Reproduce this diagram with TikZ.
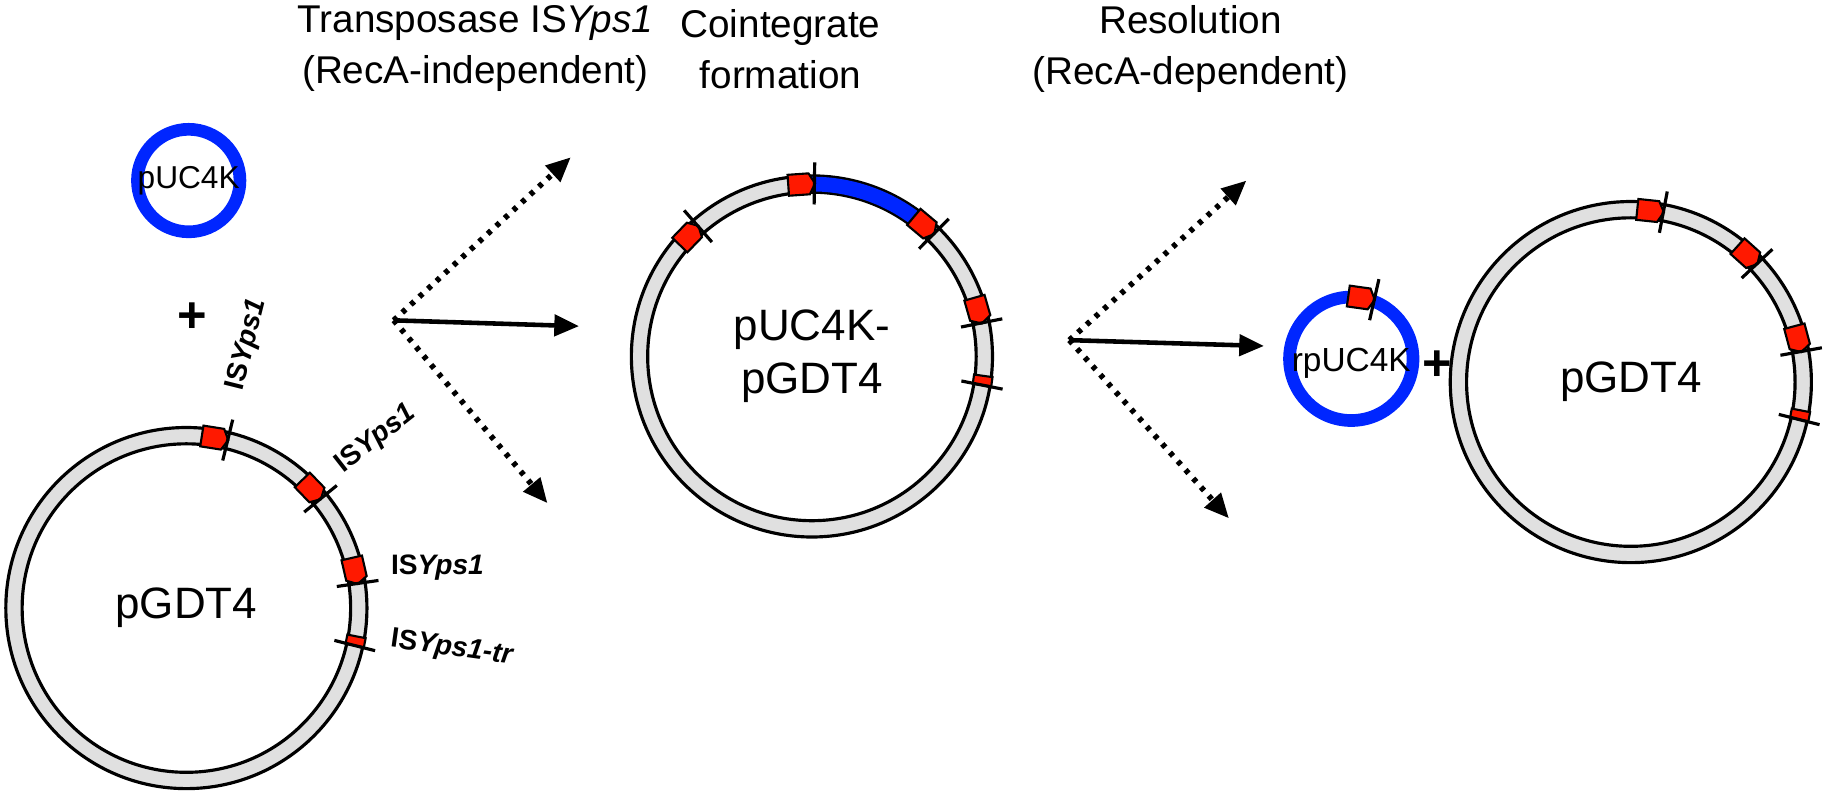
\documentclass[tikz,border=0pt]{standalone}
\usepackage{fontspec}
\setmainfont{Liberation Sans}
\usetikzlibrary{arrows.meta}

\tikzset{
  ring/.style={draw=black, line width=0.9pt, fill=black!12, even odd rule},
  smallring/.style={draw=blue!85!cyan, line width=3.6pt},
  ismark/.style={draw=black, line width=0.6pt, fill=red!80!orange},
  tick/.style={draw=black, line width=0.9pt},
  react/.style={-{Triangle[length=7pt,width=6pt]}, line width=1.3pt},
  maybe/.style={react, dotted, line width=1.6pt},
  title/.style={font=\fontsize{11}{14.5}\selectfont, align=center},
  islab/.style={font=\fontsize{8}{10}\selectfont\bfseries},
  plname/.style={font=\fontsize{12.5}{15}\selectfont, align=center}
}

% IS element on a ring: centre, angle, radius
\newcommand{\ismk}[3]{%
  \begin{scope}[shift={(#1)}, rotate=#2]
    \draw[ismark] (#3-9,-10) -- (#3+9,-10) -- (#3+9,8) -- (#3,13) -- (#3-9,8) -- cycle;
    \draw[tick] (#3-18,11) -- (#3+18,14);
  \end{scope}}
% truncated IS element
\newcommand{\istr}[3]{%
  \begin{scope}[shift={(#1)}, rotate=#2]
    \draw[ismark] (#3-8,-4) rectangle (#3+8,4);
    \draw[tick] (#3-18,3) -- (#3+18,5);
  \end{scope}}

\begin{document}
\begin{tikzpicture}[x=0.011649cm, y=-0.011649cm]
  \useasboundingbox (0,0) rectangle (1571,687);

  % titles
  \node[title] (t1) at (408,42) {Transposase IS\textit{Yps1}\\(RecA-independent)};
  \node[title] (t2) at (670,42) {Cointegrate\\formation};
  \node[title] (t3) at (1022,42) {Resolution\\(RecA-dependent)};

  % donor plasmids
  \coordinate (pu) at (162,155);
  \draw[smallring] (pu) circle (44);
  \node[font=\fontsize{9}{11}\selectfont] (puname) at (pu) {pUC4K};
  \node[font=\Large\bfseries] (plus1) at (165,273) {+};

  \coordinate (pg) at (160,522);
  \path[ring] (pg) circle (155) (pg) circle (141);
  \node[plname] (pgname) at (pg) {pGDT4};
  \ismk{pg}{81}{148}
  \ismk{pg}{44}{148}
  \ismk{pg}{13}{148}
  \istr{pg}{-11}{148}
  \node[islab, rotate=76, anchor=west] (l1) at (200,345) {IS\textit{Yps1}};
  \node[islab, rotate=38, anchor=west] (l2) at (283,408) {IS\textit{Yps1}};
  \node[islab, anchor=west] (l3) at (325,487) {IS\textit{Yps1}};
  \node[islab, rotate=-8, anchor=west] (l4) at (325,548) {IS\textit{Yps1-tr}};

  % transposition arrows
  \coordinate (o1) at (338,275);
  \coordinate (e1a) at (490,135);
  \coordinate (e1b) at (497,280);
  \coordinate (e1c) at (470,432);
  \draw[maybe] (o1) -- (e1a);
  \draw[react] (o1) -- (e1b);
  \draw[maybe] (o1) -- (e1c);

  % cointegrate
  \coordinate (co) at (697,306);
  \path[ring] (co) circle (155) (co) circle (141);
  \draw[blue!85!cyan, line width=4.2pt] ([shift={(-93:148)}]co) arc[start angle=-93, end angle=-51, radius=148];
  \node[plname] (coname) at (co) {pUC4K-\\pGDT4};
  \ismk{co}{94}{148}
  \ismk{co}{50}{148}
  \ismk{co}{136}{148}
  \ismk{co}{16}{148}
  \istr{co}{-8}{148}

  % resolution arrows
  \coordinate (o2) at (918,292);
  \coordinate (e2a) at (1070,155);
  \coordinate (e2b) at (1085,297);
  \coordinate (e2c) at (1055,445);
  \draw[maybe] (o2) -- (e2a);
  \draw[react] (o2) -- (e2b);
  \draw[maybe] (o2) -- (e2c);

  % products
  \coordinate (rp) at (1160,308);
  \draw[smallring] (rp) circle (53);
  \ismk{rp}{82}{53}
  \node[font=\fontsize{9.5}{12}\selectfont] (rpname) at (1160,312) {rpUC4K};
  \node[font=\Large\bfseries] (plus2) at (1234,314) {+};

  \coordinate (pr) at (1400,328);
  \path[ring] (pr) circle (155) (pr) circle (141);
  \node[plname] (prname) at (pr) {pGDT4};
  \ismk{pr}{84}{148}
  \ismk{pr}{48}{148}
  \ismk{pr}{15}{148}
  \istr{pr}{-11}{148}
\end{tikzpicture}
\end{document}
